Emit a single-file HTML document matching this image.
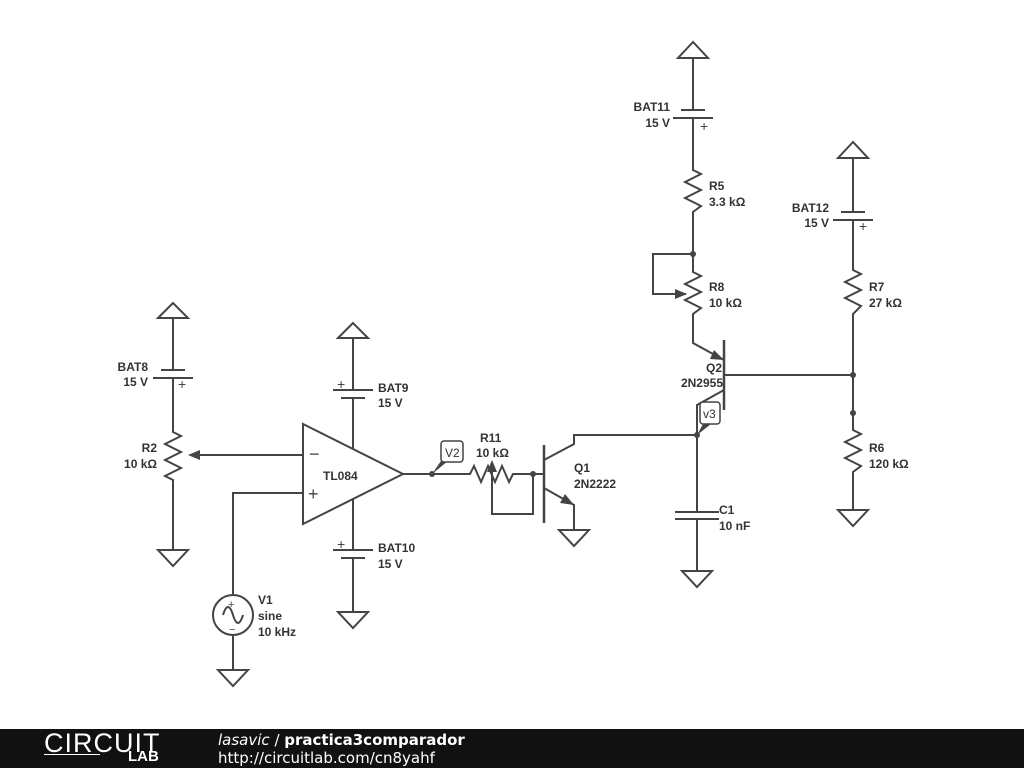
<!DOCTYPE html>
<html><head><style>
body{margin:0;width:1024px;height:768px;background:#fff;overflow:hidden;font-family:"Liberation Sans",sans-serif}
svg{position:absolute;left:0;top:0}
.f{position:absolute;left:0;top:729px;width:1024px;height:39px;background:#111}
</style></head><body>
<svg width="1024" height="768" viewBox="0 0 1024 768">
<g fill="none" stroke="#444" stroke-width="2">
<!-- left branch -->
<polygon points="173,303 158,318 188,318"/><line x1="173" y1="318" x2="173" y2="370"/>
<line x1="161" y1="370" x2="185" y2="370"/><line x1="153" y1="378" x2="193" y2="378"/>
<polyline points="173,378 173,432 181,436 165,444 181,452 165,460 181,468 165,476 173,480 173,550"/>
<polygon points="158,550 188,550 173,566"/>
<line x1="190" y1="455" x2="303" y2="455"/>
<!-- opamp -->
<polygon points="303,424 303,524 403,474"/>
<line x1="353" y1="338" x2="353" y2="390"/><line x1="333" y1="390" x2="373" y2="390"/><line x1="341" y1="398" x2="365" y2="398"/><line x1="353" y1="398" x2="353" y2="449"/>
<polygon points="353,323 338,338 368,338"/>
<line x1="353" y1="499" x2="353" y2="550"/><line x1="333" y1="550" x2="373" y2="550"/><line x1="341" y1="558" x2="365" y2="558"/><line x1="353" y1="558" x2="353" y2="612"/>
<polygon points="338,612 368,612 353,628"/>
<polyline points="303,493 233,493 233,595"/><circle cx="233" cy="615" r="20"/><line x1="233" y1="635" x2="233" y2="670"/>
<polygon points="218,670 248,670 233,686"/>
<path d="M223,615 q5,-16 10,0 q5,16 10,0"/>
<!-- output -->
<polyline points="403,474 470,474 474,466 481,482 488,466 495,482 502,466 509,482 513,474 544,474"/>
<polyline points="492,468 492,514 533,514 533,474"/>
<line x1="544" y1="445" x2="544" y2="523" stroke-width="2.5"/>
<polyline points="544,460 574,444 574,435 697,435"/>
<polyline points="544,488 574,505 574,530"/>
<polygon points="559,530 589,530 574,546"/>
<!-- C1 -->
<line x1="697" y1="435" x2="697" y2="512"/><line x1="675" y1="512" x2="719" y2="512"/><line x1="675" y1="519" x2="719" y2="519"/><line x1="697" y1="519" x2="697" y2="571"/>
<polygon points="682,571 712,571 697,587"/>
<!-- Q2 -->
<line x1="724" y1="340" x2="724" y2="410" stroke-width="2.5"/>
<polyline points="697,435 697,405 724,390"/>
<polyline points="693,318 693,343 724,360"/>
<line x1="724" y1="375" x2="853" y2="375"/>
<!-- R5 R8 -->
<polygon points="693,42 678,58 708,58"/><line x1="693" y1="58" x2="693" y2="110"/>
<line x1="681" y1="110" x2="705" y2="110"/><line x1="673" y1="118" x2="713" y2="118"/>
<polyline points="693,118 693,170 701,174 685,182 701,190 685,198 701,206 693,212 693,272 701,276 685,284 701,292 685,300 701,308 693,314 693,318"/>
<polyline points="693,254 653,254 653,294 686,294"/>
<!-- right -->
<polygon points="853,142 838,158 868,158"/><line x1="853" y1="158" x2="853" y2="212"/>
<line x1="841" y1="212" x2="865" y2="212"/><line x1="833" y1="220" x2="873" y2="220"/>
<polyline points="853,220 853,270 861,274 845,282 861,290 845,298 861,306 853,314 853,430 861,434 845,442 861,450 845,458 861,466 853,472 853,510"/>
<polygon points="838,510 868,510 853,526"/>
</g>
<g fill="#444" stroke="none">
<polygon points="188,455 200,450 200,460"/>
<polygon points="492,460 487,472 497,472"/>
<polygon points="687,294 675,289 675,299"/>
<polygon points="574,505 560,503 565,494"/>
<polygon points="724,360 710,359 714,350"/>
<circle cx="432" cy="474" r="3"/><circle cx="533" cy="474" r="3"/><circle cx="697" cy="435" r="3"/>
<circle cx="693" cy="254" r="3"/><circle cx="853" cy="375" r="3"/><circle cx="853" cy="413" r="3"/>
<polygon points="432,474 441,461 448,461"/>
<polygon points="697,435 703,424 711,424"/>
</g>
<rect x="441" y="441" width="22" height="21" rx="3" fill="#fff" stroke="#444" stroke-width="1.5"/>
<rect x="700" y="402" width="20" height="22" rx="3" fill="#fff" stroke="#444" stroke-width="1.5"/>
<g font-family="Liberation Sans,sans-serif" font-size="12" font-weight="bold" fill="#333">
<text x="445" y="457" font-weight="normal">V2</text><text x="703" y="418" font-weight="normal">v3</text>
<text x="148" y="371" text-anchor="end">BAT8</text><text x="148" y="386" text-anchor="end">15 V</text>
<text x="157" y="452" text-anchor="end">R2</text><text x="157" y="468" text-anchor="end">10 kΩ</text>
<text x="378" y="392">BAT9</text><text x="378" y="407">15 V</text>
<text x="378" y="552">BAT10</text><text x="378" y="568">15 V</text>
<text x="323" y="480">TL084</text>
<text x="258" y="604">V1</text><text x="258" y="620">sine</text><text x="258" y="636">10 kHz</text>
<text x="480" y="442">R11</text><text x="476" y="457">10 kΩ</text>
<text x="574" y="472">Q1</text><text x="574" y="488">2N2222</text>
<text x="719" y="514">C1</text><text x="719" y="530">10 nF</text>
<text x="706" y="372">Q2</text><text x="723" y="387" text-anchor="end">2N2955</text>
<text x="670" y="111" text-anchor="end">BAT11</text><text x="670" y="127" text-anchor="end">15 V</text>
<text x="709" y="190">R5</text><text x="709" y="206">3.3 kΩ</text>
<text x="709" y="291">R8</text><text x="709" y="307">10 kΩ</text>
<text x="829" y="212" text-anchor="end">BAT12</text><text x="829" y="227" text-anchor="end">15 V</text>
<text x="869" y="291">R7</text><text x="869" y="307">27 kΩ</text>
<text x="869" y="452">R6</text><text x="869" y="468">120 kΩ</text>
</g>
<g font-family="Liberation Sans,sans-serif" font-size="14" fill="#444">
<text x="178" y="389">+</text><text x="337" y="389">+</text><text x="337" y="549">+</text>
<text x="700" y="131">+</text><text x="859" y="231">+</text>
<text x="309" y="460" font-size="18">−</text><text x="308" y="500" font-size="18">+</text>
<text x="228" y="608" font-size="11">+</text><text x="229" y="633" font-size="11">−</text>
</g>
</svg>
<div class="f">
<div style="position:absolute;left:44px;top:0;color:#fff;font-size:27px;letter-spacing:1px;line-height:28px;font-weight:300">CIRCUIT</div>
<div style="position:absolute;left:44px;top:25px;width:56px;height:1px;background:#fff"></div>
<div style="position:absolute;left:128px;top:20px;color:#fff;font-size:15px;font-weight:bold;line-height:16px">LAB</div>
<div style="position:absolute;left:218px;top:2px;color:#fff;font-size:15px;font-family:'DejaVu Sans',sans-serif"><i>lasavic</i> / <b>practica3comparador</b></div>
<div style="position:absolute;left:218px;top:20px;color:#fff;font-size:15px;font-family:'DejaVu Sans',sans-serif">http://circuitlab.com/cn8yahf</div>
</div>
</body></html>
